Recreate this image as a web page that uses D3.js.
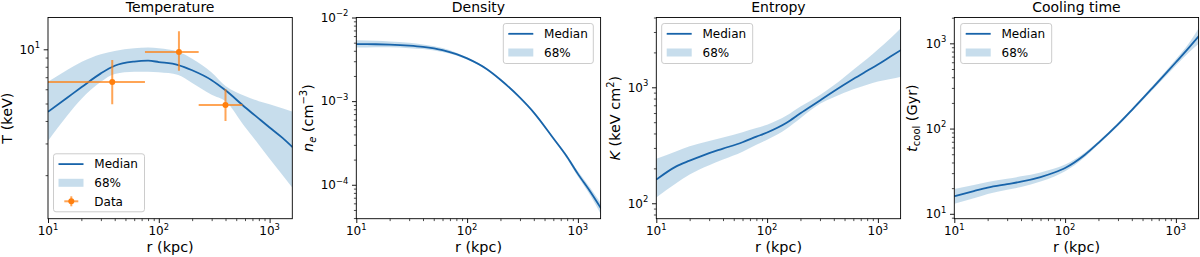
<!DOCTYPE html>
<html><head><meta charset="utf-8">
<script src="https://cdn.jsdelivr.net/npm/d3@7"></script>
<style>
body{margin:0;background:#fff}
svg{display:block}
text{font-family:"DejaVu Sans",sans-serif;fill:#000}
</style>
</head><body>
<svg id="c" width="1200" height="257"></svg>
<script>
// ---------------- data ----------------
const radius = [10, 15, 20, 30, 40, 60, 80, 100, 150, 200, 300, 400, 600, 800, 1000, 1300, 1620];

const tempMedian = [4.5, 5.4, 6.15, 7.35, 8.1, 8.55, 8.65, 8.5, 8.18, 7.65, 6.74, 5.92, 4.77, 4.12, 3.68, 3.23, 2.85];
const tempHigh   = [6.6, 7.7, 8.5, 9.4, 9.8, 10.15, 10.25, 10.15, 9.7, 8.87, 7.43, 6.25, 5.5, 5.15, 4.95, 4.7, 4.5];
const tempLow    = [3.1, 4.3, 5.3, 6.6, 7.3, 7.5, 7.5, 7.45, 7.2, 6.5, 5.6, 5.15, 3.7, 2.95, 2.47, 2.01, 1.69];

const dataR    = [38, 152, 400];
const dataRLo  = [5, 75, 229];
const dataRHi  = [75, 229, 569];
const dataT    = [6.58, 9.66, 4.91];
const dataTLo  = [4.95, 7.6, 4.0];
const dataTHi  = [8.72, 12.6, 6.0];

const densMedian = [4.80e-3, 4.79e-3, 4.75e-3, 4.62e-3, 4.46e-3, 4.08e-3, 3.65e-3, 3.24e-3, 2.42e-3, 1.80e-3, 1.10e-3, 7.3e-4, 3.6e-4, 2.15e-4, 1.35e-4, 8.2e-5, 5.2e-5];
const densHigh   = [5.33e-3, 5.27e-3, 5.18e-3, 4.99e-3, 4.77e-3, 4.32e-3, 3.80e-3, 3.34e-3, 2.47e-3, 1.84e-3, 1.12e-3, 7.5e-4, 3.7e-4, 2.26e-4, 1.45e-4, 9.1e-5, 6.0e-5];
const densLow    = [4.37e-3, 4.41e-3, 4.42e-3, 4.30e-3, 4.19e-3, 3.88e-3, 3.52e-3, 3.14e-3, 2.37e-3, 1.76e-3, 1.08e-3, 7.1e-4, 3.5e-4, 2.04e-4, 1.26e-4, 7.4e-5, 4.4e-5];

const entMedian = [160, 207, 233, 271, 296, 336, 375, 408, 495, 598, 770, 925, 1180, 1387, 1570, 1840, 2100];
const entHigh   = [242, 280, 310, 345, 370, 410, 445, 475, 570, 682, 860, 1040, 1420, 1760, 2120, 2650, 3250];
const entLow    = [112, 148, 177, 213, 238, 278, 320, 353, 440, 542, 720, 820, 960, 1050, 1120, 1180, 1235];

const coolMedian = [16.1, 18.5, 20.3, 22.3, 23.8, 27, 30.5, 34.5, 49, 68, 112, 165, 290, 435, 600, 880, 1230];
const coolHigh   = [19.6, 21.8, 23.6, 25.8, 27.5, 30.6, 34, 37.8, 52, 71, 117, 172, 305, 465, 650, 990, 1530];
const coolLow    = [13.1, 15.2, 17.1, 19.2, 20.6, 23.9, 27.4, 31.5, 46, 65, 107, 158, 275, 405, 550, 775, 1000];

const xTicks = [10, 100, 1000];
const xTickExp = ["1", "2", "3"];
const tempTicks = [10];           const tempTickExp = ["1"];
const densTicks = [1e-2, 1e-3, 1e-4]; const densTickExp = ["\u22122", "\u22123", "\u22124"];
const entTicks = [100, 1000];     const entTickExp = ["2", "3"];
const coolTicks = [10, 100, 1000]; const coolTickExp = ["1", "2", "3"];

const titles = ["Temperature", "Density", "Entropy", "Cooling time"];
const legendLabels = ["Median", "68%", "Data"];

// ---------------- layout ----------------
const svg = d3.select("#c");
const axTop = 17.5, axBottom = 218.7, panelW = 244.3;
const xDomain = [10, 1603];
const blue = "#1f77b4", lineBlue = "#1864aa", orange = "#ff7f0e";

const panels = [
  {x0: 48,    yDomain: [1.146, 15.02], ticks: tempTicks, exps: tempTickExp, med: tempMedian, lo: tempLow, hi: tempHigh,
   ylab: "T", labX: 12, legend: {x: 53.5, y: 153.8, w: 91, h: 58, data: true}},
  {x0: 356.3, yDomain: [3.93e-5, 1.0e-2], ticks: densTicks, exps: densTickExp, med: densMedian, lo: densLow, hi: densHigh,
   ylab: "n", labX: 313, legend: {x: 503.3, y: 23.5, w: 90, h: 40}},
  {x0: 656.3, yDomain: [73.6, 4000], ticks: entTicks, exps: entTickExp, med: entMedian, lo: entLow, hi: entHigh,
   ylab: "K", labX: 620, legend: {x: 661.7, y: 23.5, w: 91, h: 40}},
  {x0: 954.3, yDomain: [8.76, 2010], ticks: coolTicks, exps: coolTickExp, med: coolMedian, lo: coolLow, hi: coolHigh,
   ylab: "t", labX: 917, legend: {x: 960.7, y: 23.5, w: 91, h: 40}}
];

function minorTicks(domain) {
  const out = [];
  const lo = Math.floor(Math.log10(domain[0])), hi = Math.ceil(Math.log10(domain[1]));
  for (let e = lo; e <= hi; e++) for (let k = 2; k <= 9; k++) {
    const v = k * Math.pow(10, e);
    if (v >= domain[0] && v <= domain[1]) out.push(v);
  }
  return out;
}

function powLabel(sel, exp) {
  sel.append("tspan").text("10");
  sel.append("tspan").attr("dy", -5.5).attr("font-size", "8.4px").text(exp);
}

panels.forEach((p, i) => {
  const g = svg.append("g").attr("transform", `translate(${p.x0},${axTop})`);
  const h = axBottom - axTop;
  const x = d3.scaleLog().domain(xDomain).range([0, panelW]);
  const y = d3.scaleLog().domain(p.yDomain).range([h, 0]);

  const clipId = "clip" + i;
  g.append("clipPath").attr("id", clipId).append("rect").attr("width", panelW).attr("height", h);
  const plot = g.append("g").attr("clip-path", `url(#${clipId})`);

  const rows = radius.map((r, j) => ({r, m: p.med[j], lo: p.lo[j], hi: p.hi[j]}));
  plot.append("path").datum(rows)
    .attr("d", d3.area().x(d => x(d.r)).y0(d => y(d.lo)).y1(d => y(d.hi)).curve(d3.curveMonotoneX))
    .attr("fill", blue).attr("fill-opacity", 0.25);
  plot.append("path").datum(rows)
    .attr("d", d3.line().x(d => x(d.r)).y(d => y(d.m)).curve(d3.curveMonotoneX))
    .attr("fill", "none").attr("stroke", lineBlue).attr("stroke-width", 1.8);

  if (i === 0) {
    const pts = dataR.map((r, j) => ({r, rlo: dataRLo[j], rhi: dataRHi[j], t: dataT[j], tlo: dataTLo[j], thi: dataTHi[j]}));
    const eg = plot.selectAll("g.err").data(pts).enter().append("g");
    eg.append("line").attr("x1", d => x(d.rlo)).attr("x2", d => x(d.rhi)).attr("y1", d => y(d.t)).attr("y2", d => y(d.t))
      .attr("stroke", orange).attr("stroke-opacity", 0.7).attr("stroke-width", 2);
    eg.append("line").attr("x1", d => x(d.r)).attr("x2", d => x(d.r)).attr("y1", d => y(d.tlo)).attr("y2", d => y(d.thi))
      .attr("stroke", orange).attr("stroke-opacity", 0.7).attr("stroke-width", 2);
    eg.append("circle").attr("cx", d => x(d.r)).attr("cy", d => y(d.t)).attr("r", 3).attr("fill", orange);
  }

  // axes
  const xMaj = g.append("g").attr("transform", `translate(0,${h})`)
    .call(d3.axisBottom(x).tickValues(xTicks).tickSize(4.3).tickFormat(""));
  const xMin = g.append("g").attr("transform", `translate(0,${h})`)
    .call(d3.axisBottom(x).tickValues(minorTicks(xDomain)).tickSize(2.4).tickFormat(""));
  const yMaj = g.append("g").call(d3.axisLeft(y).tickValues(p.ticks).tickSize(4.3).tickFormat(""));
  const yMin = g.append("g").call(d3.axisLeft(y).tickValues(minorTicks(p.yDomain)).tickSize(2.4).tickFormat(""));
  [xMaj, xMin, yMaj, yMin].forEach(a => a.select(".domain").remove());
  [xMaj, yMaj].forEach(a => a.selectAll(".tick line").attr("stroke", "#000").attr("stroke-width", 0.9));
  [xMin, yMin].forEach(a => a.selectAll(".tick line").attr("stroke", "#000").attr("stroke-width", 0.7));

  xTicks.forEach((v, j) => {
    const t = g.append("text").attr("x", x(v)).attr("y", h + 16.3).attr("text-anchor", "middle").attr("font-size", "12px");
    powLabel(t, xTickExp[j]);
  });
  p.ticks.forEach((v, j) => {
    const t = g.append("text").attr("x", -8).attr("y", y(v) + 4.3).attr("text-anchor", "end").attr("font-size", "12px");
    powLabel(t, p.exps[j]);
  });

  g.append("rect").attr("width", panelW).attr("height", h).attr("fill", "none").attr("stroke", "#000").attr("stroke-width", 0.9);

  // title / labels
  g.append("text").attr("x", panelW / 2).attr("y", 11.5 - axTop).attr("text-anchor", "middle").attr("font-size", "14px").text(titles[i]);
  g.append("text").attr("x", panelW / 2).attr("y", 251.5 - axTop).attr("text-anchor", "middle").attr("font-size", "14.4px").text("r (kpc)");

  const yl = svg.append("text").attr("text-anchor", "middle").attr("font-size", "14.4px")
    .attr("transform", `translate(${p.labX},${(axTop + axBottom) / 2}) rotate(-90)`);
  if (p.ylab === "T") {
    yl.text("T (keV)");
  } else if (p.ylab === "n") {
    yl.append("tspan").attr("font-style", "italic").text("n");
    yl.append("tspan").attr("font-style", "italic").attr("font-size", "10px").attr("dy", 3).text("e");
    yl.append("tspan").attr("dy", -3).text(" (cm");
    yl.append("tspan").attr("font-size", "10px").attr("dy", -6).text("\u22123");
    yl.append("tspan").attr("dy", 6).text(")");
  } else if (p.ylab === "K") {
    yl.append("tspan").attr("font-style", "italic").text("K");
    yl.append("tspan").text(" (keV cm");
    yl.append("tspan").attr("font-size", "10px").attr("dy", -6).text("2");
    yl.append("tspan").attr("dy", 6).text(")");
  } else {
    yl.append("tspan").attr("font-style", "italic").text("t");
    yl.append("tspan").attr("font-size", "10px").attr("dy", 3).text("cool");
    yl.append("tspan").attr("dy", -3).text(" (Gyr)");
  }

  // legend
  const L = p.legend;
  const lg = svg.append("g").attr("transform", `translate(${L.x},${L.y})`);
  lg.append("rect").attr("width", L.w).attr("height", L.h).attr("rx", 2.5)
    .attr("fill", "#fff").attr("fill-opacity", 0.8).attr("stroke", "#cccccc").attr("stroke-width", 1);
  const rowY = [10.3, 29, 47.5];
  lg.append("line").attr("x1", 5).attr("x2", 30).attr("y1", rowY[0]).attr("y2", rowY[0]).attr("stroke", lineBlue).attr("stroke-width", 1.8);
  lg.append("rect").attr("x", 5).attr("y", rowY[1] - 4).attr("width", 25).attr("height", 8).attr("fill", blue).attr("fill-opacity", 0.25);
  const nRows = L.data ? 3 : 2;
  for (let k = 0; k < nRows; k++) {
    lg.append("text").attr("x", 40.8).attr("y", rowY[k] + 4.3).attr("font-size", "12px").text(legendLabels[k]);
  }
  if (L.data) {
    lg.append("line").attr("x1", 10.8).attr("x2", 24.8).attr("y1", rowY[2]).attr("y2", rowY[2]).attr("stroke", orange).attr("stroke-opacity", 0.7).attr("stroke-width", 2);
    lg.append("line").attr("x1", 17.8).attr("x2", 17.8).attr("y1", rowY[2] - 5).attr("y2", rowY[2] + 5).attr("stroke", orange).attr("stroke-opacity", 0.7).attr("stroke-width", 2);
    lg.append("circle").attr("cx", 17.8).attr("cy", rowY[2]).attr("r", 3).attr("fill", orange);
  }
});
</script>
</body></html>
